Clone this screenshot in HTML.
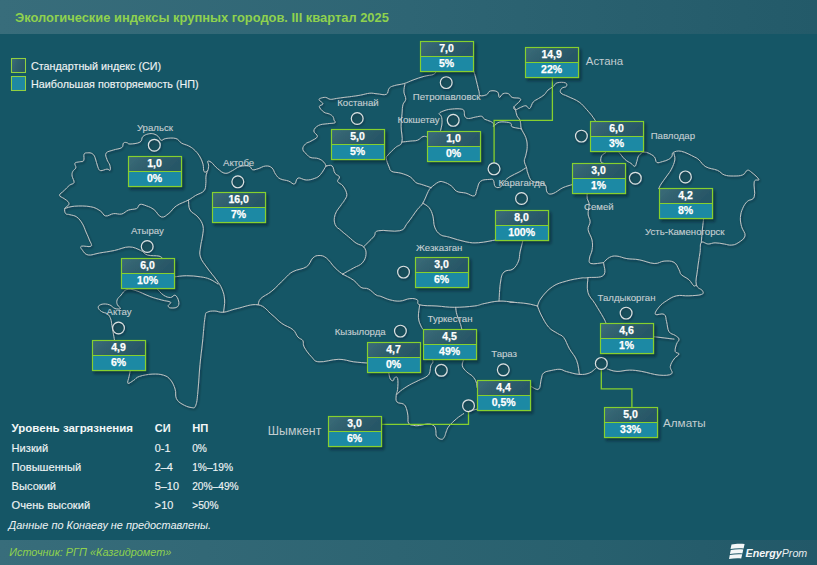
<!DOCTYPE html>
<html><head><meta charset="utf-8"><style>
html,body{margin:0;padding:0;}
body{width:817px;height:565px;position:relative;overflow:hidden;background:#155666;font-family:"Liberation Sans",sans-serif;}
.hdr{position:absolute;left:0;top:0;width:817px;height:34px;background:linear-gradient(90deg,#386d7b 0%,#2e6574 50%,#235a69 100%);}
.ftr{position:absolute;left:0;top:540px;width:817px;height:25px;background:linear-gradient(90deg,#386d7b 0%,#326876 25%,#28606e 72%,#225868 100%);}
svg{position:absolute;left:0;top:0;}
</style></head><body>
<div class="hdr"></div><div class="ftr"></div>

<svg width="817" height="565" style="position:absolute;left:0;top:0">
<defs><filter id="msh" x="-5%" y="-5%" width="110%" height="110%"><feDropShadow dx="1" dy="1.3" stdDeviation="0.9" flood-color="#00141c" flood-opacity="0.6"/></filter></defs>
<g fill="none" stroke="#bec3c3" stroke-width="1.0" stroke-linejoin="round" stroke-linecap="round" filter="url(#msh)">
<path d="M162.4,258.4 C161.7,257.9 162.0,256.8 159.0,256.1 C156.0,255.4 151.2,256.1 147.5,255.0 C143.8,253.9 144.3,252.0 140.6,250.4 C136.9,248.8 134.4,246.9 129.1,246.9 C123.8,246.9 120.2,249.3 114.3,250.5 C108.4,251.7 104.7,252.1 99.5,253.0 C94.3,253.9 91.7,255.5 88.3,255.0 C84.9,254.5 83.9,252.1 82.5,250.3 C81.1,248.5 79.7,247.0 81.4,246.2 C83.1,245.4 89.4,247.4 91.0,246.2 C92.6,245.0 90.4,242.8 89.4,240.0 C88.4,237.2 87.4,235.2 86.0,232.0 C84.6,228.8 84.3,226.9 82.5,223.9 C80.7,220.9 79.3,218.8 76.8,217.0 C74.3,215.2 72.1,215.4 69.9,214.7 C67.7,214.0 66.7,214.8 65.7,213.6 C64.7,212.4 64.2,210.3 64.8,208.5 C65.4,206.7 68.1,206.2 68.7,204.8 C69.3,203.4 68.9,202.8 68.0,201.6 C67.1,200.4 65.8,199.9 64.1,198.6 C62.4,197.3 59.5,196.8 59.5,195.2 C59.5,193.6 61.9,192.8 63.9,190.8 C65.9,188.8 67.4,187.0 69.4,185.3 C71.4,183.6 73.5,184.3 74.0,182.5 C74.5,180.7 72.4,178.3 72.1,176.1 C71.8,173.9 72.0,173.2 72.7,171.5 C73.4,169.8 75.4,169.5 75.8,167.8 C76.2,166.1 74.2,164.4 74.9,163.2 C75.6,162.0 77.7,162.3 79.5,161.8 C81.3,161.3 82.8,162.0 83.7,160.5 C84.6,159.0 83.3,155.6 84.1,154.1 C84.9,152.6 86.1,152.9 87.7,152.8 C89.3,152.7 90.8,152.7 92.3,153.7 C93.8,154.7 94.0,155.1 95.1,157.7 C96.2,160.3 96.7,164.3 97.8,166.9 C98.9,169.5 98.8,170.2 100.6,170.6 C102.4,171.0 105.1,169.2 107.0,169.1 C108.9,169.0 109.5,171.0 110.1,170.2 C110.7,169.4 110.4,167.2 109.8,165.1 C109.2,163.0 107.7,162.0 107.0,159.6 C106.3,157.2 104.8,155.0 106.1,153.1 C107.4,151.2 110.3,151.1 113.4,150.0 C116.5,148.9 119.7,149.0 121.7,147.6 C123.7,146.2 122.4,144.0 123.5,143.0 C124.6,142.0 125.9,142.5 127.2,142.7 C128.5,142.9 127.4,144.1 130.0,144.0 C132.6,143.9 137.4,143.6 140.0,142.1 C142.6,140.6 141.1,138.2 142.8,136.6 C144.5,135.0 146.1,134.4 148.3,133.9 C150.5,133.4 151.8,133.4 153.8,133.9 C155.8,134.4 156.9,135.3 158.4,136.6 C159.9,137.9 159.7,139.9 161.2,140.3 C162.7,140.7 162.9,138.9 165.8,138.5 C168.7,138.1 172.8,137.6 175.9,138.5 C179.0,139.4 178.9,141.5 181.4,143.0 C183.9,144.5 185.9,144.5 188.4,145.8 C190.9,147.1 191.7,147.5 193.9,149.5 C196.1,151.5 197.6,153.0 199.4,155.9 C201.2,158.8 202.1,161.1 203.0,164.2 C203.9,167.3 203.1,170.2 204.0,171.5 C204.9,172.8 206.7,171.9 207.6,170.6 C208.5,169.3 208.6,166.9 208.6,165.1 C208.6,163.3 207.1,162.0 207.6,161.4 C208.1,160.8 209.3,160.8 211.3,162.3 C213.3,163.8 214.9,166.5 217.7,168.7 C220.5,170.9 222.2,172.9 225.1,173.3 C228.0,173.7 229.5,172.0 232.4,170.6 C235.3,169.2 236.5,167.4 239.8,166.5 C243.1,165.6 246.3,165.4 248.9,166.0 C251.5,166.6 250.8,169.2 252.6,169.7 C254.4,170.2 255.5,169.4 258.1,168.7 C260.7,168.0 262.7,166.2 265.5,166.0 C268.3,165.8 269.9,166.1 271.9,167.8 C273.9,169.5 273.9,172.1 275.6,174.3 C277.3,176.5 277.6,177.5 280.2,178.8 C282.8,180.1 285.6,180.0 288.5,181.0 C291.4,182.0 292.6,184.6 294.5,184.0 C296.4,183.4 295.7,178.8 298.0,178.0 C300.3,177.2 302.8,179.9 306.2,180.0 C309.6,180.1 311.9,179.4 314.8,178.3 C317.7,177.2 318.3,177.0 320.5,174.5 C322.7,172.0 324.9,167.7 326.0,166.0"/>
<path d="M326.0,166.0 C325.6,165.2 325.4,163.7 323.9,162.2 C322.4,160.7 321.0,159.5 318.4,158.6 C315.8,157.7 313.2,158.3 311.0,157.6 C308.8,156.9 308.9,156.5 307.3,154.9 C305.7,153.3 303.2,151.6 302.8,149.4 C302.4,147.2 303.9,145.6 305.5,143.9 C307.1,142.2 308.6,142.6 311.0,141.1 C313.4,139.6 316.8,138.5 317.4,136.5 C318.0,134.5 313.6,133.2 313.8,131.0 C314.0,128.8 315.7,127.0 318.4,125.5 C321.1,124.0 324.2,124.2 327.5,123.7 C330.8,123.2 333.6,123.5 334.9,122.8 C336.2,122.1 334.4,121.2 334.0,120.0 C333.6,118.8 333.9,117.9 333.0,116.7 C332.1,115.5 331.2,114.9 329.4,114.0 C327.6,113.1 325.9,113.6 323.9,112.1 C321.9,110.6 319.5,108.2 319.3,106.6 C319.1,105.0 323.0,105.2 323.0,103.9 C323.0,102.6 319.9,101.3 319.3,100.2 C318.7,99.1 318.9,99.0 320.2,98.4 C321.5,97.8 323.7,97.2 325.7,97.4 C327.7,97.6 328.1,99.1 330.3,99.3 C332.5,99.5 333.9,98.8 336.7,98.4 C339.5,98.0 341.2,97.8 344.1,97.4 C347.0,97.0 348.1,97.0 351.4,96.5 C354.7,96.0 356.9,95.8 360.6,95.1 C364.3,94.4 366.5,93.5 369.8,93.2 C373.1,92.9 373.8,93.6 377.1,93.8 C380.4,94.0 383.9,95.4 386.3,94.3 C388.7,93.2 387.5,90.0 389.2,88.2 C390.9,86.4 391.8,86.4 394.7,85.5 C397.6,84.6 400.2,84.7 403.9,83.6 C407.6,82.5 409.0,81.5 413.0,80.0 C417.0,78.5 420.1,77.4 424.1,76.3 C428.1,75.2 430.8,75.4 433.2,74.5 C435.6,73.6 435.4,72.3 436.0,71.7"/>
<path d="M473.6,70.8 C474.0,72.1 474.8,74.4 475.5,77.2 C476.2,80.0 476.6,81.7 477.3,84.6 C478.0,87.5 478.5,89.7 479.1,91.9 C479.7,94.1 478.6,95.0 480.1,95.6 C481.6,96.2 484.5,95.6 486.5,94.7 C488.5,93.8 488.0,91.6 490.2,91.0 C492.4,90.4 495.7,90.6 497.5,91.9 C499.3,93.2 498.2,97.0 499.3,97.4 C500.4,97.8 501.2,94.4 503.0,93.7 C504.8,93.0 506.7,93.0 508.5,93.7 C510.3,94.4 510.0,96.5 512.2,97.4 C514.4,98.3 518.0,97.6 519.5,98.3 C521.0,99.0 521.0,99.3 519.9,101.0 C518.8,102.7 514.9,105.1 514.0,106.8 C513.1,108.5 514.2,109.6 515.5,109.7 C516.8,109.8 518.3,108.3 520.4,107.5 C522.5,106.7 524.1,105.5 525.9,105.7 C527.7,105.9 528.1,109.2 529.6,108.5 C531.1,107.8 531.4,104.0 533.2,102.0 C535.0,100.0 536.5,99.9 538.7,98.4 C540.9,96.9 542.5,96.4 544.3,94.7 C546.1,93.0 546.1,91.8 547.9,90.1 C549.7,88.4 551.6,87.9 553.4,86.4 C555.2,84.9 554.7,83.5 557.1,82.8 C559.5,82.1 563.6,82.1 565.4,82.8 C567.2,83.5 567.0,85.3 566.3,86.4 C565.6,87.5 562.8,87.0 561.7,88.3 C560.6,89.6 559.5,91.3 560.8,92.9 C562.1,94.5 564.4,94.7 568.1,96.5 C571.8,98.3 575.4,99.4 579.1,102.0 C582.8,104.6 583.9,106.6 586.5,109.4 C589.1,112.2 590.2,113.4 592.0,115.8 C593.8,118.2 595.0,120.2 595.7,121.3"/>
<path d="M643.3,152.1 C644.3,152.3 645.9,151.9 648.1,152.9 C650.3,153.9 652.7,155.0 654.4,156.9 C656.1,158.8 655.2,161.5 656.8,162.4 C658.4,163.3 660.0,162.2 662.4,161.6 C664.8,161.0 666.9,160.4 668.8,159.3 C670.7,158.2 671.1,157.5 672.0,156.1 C672.9,154.7 671.3,153.5 673.2,152.5 C675.1,151.5 677.3,150.4 681.5,151.3 C685.7,152.2 690.8,155.2 694.3,156.9 C697.8,158.6 696.7,157.9 699.0,159.9 C701.3,161.9 702.2,164.7 705.9,166.8 C709.6,168.9 713.7,168.7 717.4,170.3 C721.1,171.9 721.1,173.8 724.3,174.9 C727.5,176.0 729.8,176.0 733.5,176.0 C737.2,176.0 739.9,176.0 742.7,174.9 C745.5,173.8 745.5,170.8 747.3,170.3 C749.1,169.8 749.6,170.8 751.9,172.6 C754.2,174.4 758.3,177.7 758.8,179.5 C759.3,181.3 755.1,178.3 754.2,181.8 C753.3,185.3 755.6,192.9 754.2,196.8 C752.8,200.7 749.6,199.1 747.3,201.4 C745.0,203.7 744.1,205.1 742.7,208.3 C741.3,211.5 740.6,213.8 740.4,217.5 C740.2,221.2 740.7,223.0 741.6,226.7 C742.5,230.4 745.7,232.7 745.0,235.9 C744.3,239.1 740.9,241.0 738.1,242.8 C735.3,244.6 734.0,244.9 731.2,245.1 C728.4,245.3 727.5,244.5 724.3,244.0 C721.1,243.5 718.3,242.8 715.1,242.8 C711.9,242.8 711.0,244.1 708.2,244.0 C705.4,243.9 702.9,240.8 701.3,242.5 C699.7,244.2 700.8,247.0 700.0,252.4 C699.2,257.8 698.2,263.3 697.5,269.7 C696.8,276.1 695.3,280.4 696.3,284.6 C697.3,288.8 701.5,288.8 702.5,290.8 C703.5,292.8 704.0,293.5 701.3,294.5 C698.6,295.5 693.9,295.5 688.9,295.8 C683.9,296.1 681.0,294.8 676.5,295.8 C672.0,296.8 670.1,298.5 666.6,300.7 C663.1,302.9 661.3,304.2 659.1,306.9 C656.9,309.6 654.4,312.8 655.4,314.3 C656.4,315.8 661.9,312.8 664.1,314.3 C666.3,315.8 665.6,318.3 666.6,321.8 C667.6,325.3 667.3,329.0 669.0,331.7 C670.7,334.4 673.2,333.9 675.2,335.4 C677.2,336.9 678.7,337.4 679.0,339.1 C679.3,340.8 677.3,341.6 676.5,344.1 C675.7,346.6 674.7,349.5 675.2,351.5 C675.7,353.5 679.2,352.5 679.0,354.0 C678.8,355.5 675.7,356.5 674.0,359.0 C672.3,361.5 670.8,363.4 670.3,366.4 C669.8,369.4 673.7,372.1 671.5,373.8 C669.3,375.5 665.0,375.6 659.1,375.1 C653.2,374.6 647.7,372.4 641.8,371.4 C635.9,370.4 634.4,370.1 629.4,370.1 C624.4,370.1 621.5,371.6 617.0,371.4 C612.5,371.2 609.1,369.4 607.1,368.9"/>
<path d="M595.5,368.5 C594.3,369.4 592.5,371.8 589.3,373.0 C586.1,374.2 583.9,374.7 579.4,374.4 C574.9,374.1 570.5,372.6 566.6,371.6 C562.7,370.6 563.1,369.5 560.0,369.3 C556.9,369.1 554.4,369.8 551.1,370.5 C547.8,371.2 545.6,371.3 543.6,373.0 C541.6,374.7 542.2,376.0 541.2,379.2 C540.2,382.4 540.7,387.6 538.7,389.1 C536.7,390.6 532.8,387.1 531.3,386.6"/>
<path d="M476.9,409.2 C476.1,409.4 474.5,409.7 473.0,410.0 C471.5,410.3 470.3,410.6 469.6,410.7"/>
<path d="M463.7,413.6 C462.2,414.6 459.3,416.3 456.4,418.8 C453.5,421.3 451.1,423.5 449.0,426.1 C446.9,428.7 447.0,429.9 446.1,432.0 C445.2,434.1 445.5,434.9 444.6,436.4 C443.7,437.9 443.3,439.3 441.7,439.3 C440.1,439.3 437.8,438.2 436.6,436.4 C435.4,434.6 436.3,432.6 435.8,430.5 C435.3,428.4 435.8,427.4 434.3,426.1 C432.8,424.8 431.4,424.0 428.5,423.9 C425.6,423.8 422.6,425.1 419.7,425.4 C416.8,425.7 416.0,425.8 413.8,425.4 C411.6,425.0 409.8,425.1 408.6,423.2 C407.4,421.3 408.3,418.7 407.9,415.8 C407.5,412.9 407.3,410.8 406.4,408.5 C405.5,406.2 405.4,405.4 403.5,404.1 C401.6,402.8 398.4,403.7 396.9,401.9 C395.4,400.1 396.1,397.8 396.2,395.3 C396.3,392.8 397.3,392.8 397.6,389.4 C397.9,386.0 398.2,380.8 397.6,378.4 C397.0,376.0 395.6,377.2 394.7,377.6 C393.8,378.0 394.1,380.3 393.2,380.6 C392.3,380.9 391.2,380.6 390.3,379.1 C389.4,377.6 389.1,374.4 388.8,373.2"/>
<path d="M367.3,363.0 C364.6,362.8 359.4,362.5 353.7,361.8 C348.0,361.1 345.7,359.3 338.8,359.3 C331.9,359.3 324.5,362.3 319.0,361.8 C313.5,361.3 314.5,359.8 311.5,356.8 C308.5,353.8 305.8,350.1 304.1,346.9 C302.4,343.7 304.1,342.7 302.9,340.7 C301.7,338.7 299.9,339.2 297.9,337.0 C295.9,334.8 296.1,332.3 292.9,329.6 C289.7,326.9 286.0,326.4 281.8,323.4 C277.6,320.4 276.6,318.4 271.9,314.7 C267.2,311.0 265.1,306.0 258.2,304.8 C251.3,303.6 244.1,307.0 237.2,308.5 C230.3,310.0 228.0,311.7 223.5,312.2 C219.0,312.7 218.1,311.0 214.9,311.0 C211.7,311.0 209.4,311.0 207.4,312.2 C205.4,313.4 206.0,311.2 205.0,317.2 C204.0,323.2 203.5,332.6 202.5,342.0 C201.5,351.4 200.9,354.9 200.0,364.3 C199.1,373.7 198.9,380.9 198.1,389.1 C197.3,397.3 197.2,401.5 195.8,405.2 C194.4,408.9 194.0,407.7 191.2,407.5 C188.4,407.3 185.0,405.8 182.0,404.0 C179.0,402.2 177.7,401.3 176.3,398.3 C174.9,395.3 176.3,392.8 175.1,389.1 C173.9,385.4 172.8,382.7 170.5,379.9 C168.2,377.1 167.3,376.4 163.6,375.2 C159.9,374.0 156.9,373.9 152.1,374.1 C147.3,374.3 143.1,375.2 139.4,376.4 C135.7,377.6 136.0,378.9 133.7,380.3 C131.4,381.7 128.8,384.1 127.9,383.3 C127.0,382.5 128.6,378.9 129.1,376.4 C129.6,373.9 130.0,371.8 130.2,370.6"/>
<path d="M114.4,339.6 C114.2,338.3 113.7,335.7 113.2,332.9 C112.7,330.1 112.4,328.4 111.9,325.6 C111.4,322.8 111.6,321.2 110.7,318.9 C109.8,316.6 109.4,315.5 107.6,314.0 C105.8,312.5 103.4,312.9 101.5,311.5 C99.6,310.1 98.1,308.7 98.2,307.2 C98.3,305.7 99.8,304.7 102.1,304.2 C104.4,303.7 106.9,303.9 109.5,304.8 C112.1,305.7 112.8,307.8 115.0,308.5 C117.2,309.2 120.0,309.2 120.5,308.5 C121.0,307.8 118.1,306.5 117.4,304.8 C116.7,303.1 116.4,301.9 117.1,299.9 C117.8,297.9 119.2,297.1 121.1,295.0 C123.0,292.9 123.8,290.4 126.8,289.5 C129.8,288.6 131.4,289.2 136.0,290.6 C140.6,292.0 144.7,294.5 149.8,296.4 C154.9,298.3 157.2,298.7 161.3,299.9 C165.4,301.1 169.1,301.1 170.5,302.2 C171.9,303.3 168.2,304.5 168.2,305.6 C168.2,306.7 168.7,307.7 170.5,307.9 C172.3,308.1 175.8,308.2 177.4,306.8 C179.0,305.4 179.1,303.3 178.6,301.0 C178.1,298.7 176.7,295.9 175.1,295.2 C173.5,294.5 172.8,297.5 170.5,297.5 C168.2,297.5 166.4,297.0 163.6,295.2 C160.8,293.4 158.1,289.7 156.7,288.3"/>
<path d="M64.8,208.5 C66.7,208.0 69.3,206.6 74.5,206.2 C79.7,205.8 85.5,205.8 90.6,206.7 C95.7,207.6 97.2,209.0 100.2,210.8 C103.2,212.6 102.8,215.3 105.5,215.9 C108.2,216.5 110.4,214.0 113.6,213.6 C116.8,213.2 118.6,214.7 121.6,214.0 C124.6,213.3 125.5,211.2 128.5,210.1 C131.5,209.0 134.3,209.6 136.6,208.5 C138.9,207.4 138.0,204.9 140.0,204.4 C142.0,203.9 143.8,204.9 146.6,205.9 C149.4,206.9 151.0,207.4 154.0,209.6 C157.0,211.8 158.4,216.3 161.4,217.0 C164.4,217.7 165.9,215.5 168.9,213.3 C171.9,211.1 172.4,208.6 176.3,205.9 C180.2,203.2 184.6,202.1 188.5,200.0 C192.4,197.9 192.6,197.2 195.7,195.4 C198.8,193.6 202.0,193.2 204.0,190.8 C206.0,188.4 205.4,186.4 205.8,183.4 C206.2,180.4 205.6,178.6 206.0,176.0 C206.4,173.4 207.3,171.7 207.6,170.6"/>
<path d="M188.5,200.0 C188.8,202.0 188.1,206.6 190.0,210.0 C191.9,213.4 195.4,213.8 198.0,217.0 C200.6,220.2 202.1,222.2 203.0,226.0 C203.9,229.8 203.0,231.8 202.5,236.0 C202.0,240.2 200.9,242.8 200.5,247.0 C200.1,251.2 199.0,252.8 200.4,257.0 C201.8,261.2 204.1,263.4 207.3,268.0 C210.5,272.6 213.6,275.8 216.5,280.0 C219.4,284.2 220.4,285.0 222.0,289.0 C223.6,293.0 224.3,295.4 224.6,300.0 C224.9,304.6 223.7,309.8 223.5,312.2"/>
<path d="M174.8,276.8 C177.2,276.6 181.5,275.7 186.6,275.7 C191.7,275.7 195.8,276.1 200.4,276.8 C205.0,277.5 206.1,277.7 209.6,279.1 C213.1,280.5 216.3,283.0 218.0,284.0"/>
<path d="M258.2,304.8 C258.7,303.6 258.0,301.4 260.7,298.6 C263.4,295.8 267.2,294.9 271.9,291.0 C276.6,287.1 280.1,282.9 284.3,279.0 C288.5,275.1 288.4,274.1 292.9,271.6 C297.4,269.1 302.6,269.4 306.6,266.7 C310.6,264.0 310.3,260.2 312.8,258.0 C315.3,255.8 316.3,255.5 319.0,255.5 C321.7,255.5 323.2,255.5 326.4,258.0 C329.6,260.5 331.9,264.7 335.1,267.9 C338.3,271.1 341.0,272.9 342.5,274.1"/>
<path d="M326.0,166.0 C327.2,166.0 330.3,164.5 332.1,165.9 C333.9,167.3 333.4,171.0 334.9,173.2 C336.4,175.4 339.0,175.2 339.5,176.9 C340.0,178.6 336.9,179.7 337.6,181.5 C338.3,183.3 341.3,183.5 343.1,186.1 C344.9,188.7 346.6,191.5 346.8,194.4 C347.0,197.3 345.2,198.7 344.1,200.8 C343.0,202.9 343.1,201.9 341.3,204.7 C339.5,207.5 336.3,210.6 335.1,214.6 C333.9,218.6 333.9,221.3 335.1,224.5 C336.3,227.7 338.6,228.2 341.3,230.7 C344.0,233.2 345.7,234.4 348.7,236.9 C351.7,239.4 353.1,241.1 356.1,243.1 C359.1,245.1 361.6,244.6 363.6,246.8 C365.6,249.0 366.3,251.1 366.0,254.3 C365.7,257.5 364.8,260.2 362.3,262.9 C359.8,265.6 357.7,265.7 353.7,267.9 C349.7,270.1 344.7,272.9 342.5,274.1"/>
<path d="M342.5,274.1 C344.7,275.3 350.0,277.6 353.7,280.3 C357.4,283.0 358.1,285.7 361.1,287.4 C364.1,289.1 365.5,287.5 368.5,289.0 C371.5,290.5 373.5,293.4 376.0,294.9 C378.5,296.4 378.1,295.4 380.9,296.4 C383.7,297.4 386.1,298.9 389.9,299.8 C393.7,300.7 395.8,301.3 399.8,301.1 C403.8,300.9 406.3,298.9 409.8,298.6 C413.3,298.3 415.2,298.6 417.2,299.8 C419.2,301.0 415.7,303.6 419.7,304.8 C423.7,306.0 430.1,305.5 437.0,306.0 C443.9,306.5 447.0,307.3 454.4,307.3 C461.8,307.3 468.3,306.7 474.2,306.0 C480.1,305.3 479.1,304.6 484.1,303.6 C489.1,302.6 493.0,301.4 499.0,301.1 C505.0,300.8 508.3,301.8 513.9,302.3 C519.5,302.8 522.3,302.9 527.0,303.6 C531.7,304.3 535.4,305.5 537.5,306.0"/>
<path d="M404.8,84.6 C404.6,86.1 403.7,89.0 403.9,91.9 C404.1,94.8 405.9,96.7 405.7,99.3 C405.5,101.9 403.6,101.9 402.9,104.8 C402.2,107.7 402.4,109.5 402.0,113.9 C401.6,118.3 401.1,121.2 401.1,126.8 C401.1,132.4 403.0,137.9 401.9,142.0 C400.8,146.1 398.3,144.9 395.5,147.5 C392.7,150.1 389.9,152.7 388.1,154.9 C386.3,157.1 386.1,156.2 386.3,158.6 C386.5,161.0 387.9,164.2 389.0,166.8 C390.1,169.4 389.4,170.1 391.8,171.4 C394.2,172.7 397.3,172.1 401.0,173.2 C404.7,174.3 407.3,175.1 410.2,176.9 C413.1,178.7 413.5,180.9 415.7,182.4 C417.9,183.9 418.1,183.3 421.2,184.3 C424.3,185.3 429.0,186.9 431.0,187.6"/>
<path d="M363.6,246.8 C365.6,244.8 370.5,240.1 373.5,236.9 C376.5,233.7 373.1,231.9 378.4,230.7 C383.7,229.5 394.0,232.2 399.8,230.7 C405.6,229.2 403.8,227.5 407.3,223.3 C410.8,219.1 414.1,213.7 417.2,209.7 C420.3,205.7 420.6,206.9 422.8,203.2 C425.0,199.5 426.7,194.4 428.3,191.3 C429.9,188.2 430.5,188.3 431.0,187.6"/>
<path d="M401.9,142.0 C403.6,141.8 407.1,141.5 410.2,141.1 C413.3,140.7 414.9,141.1 417.5,140.2 C420.1,139.3 421.0,137.1 423.0,136.5 C425.0,135.9 426.5,136.9 427.4,137.0"/>
<path d="M440.6,130.3 C440.9,128.8 441.9,125.7 442.0,122.9 C442.1,120.1 441.9,118.2 441.3,116.3 C440.7,114.4 438.4,114.6 439.1,113.4 C439.8,112.2 442.4,111.3 445.0,110.4 C447.6,109.5 449.1,109.3 452.3,109.0 C455.5,108.7 458.7,108.6 461.1,109.0 C463.5,109.4 463.4,109.7 464.1,111.2 C464.8,112.7 463.9,114.8 464.8,116.3 C465.7,117.8 466.3,118.4 468.5,118.5 C470.7,118.6 473.2,117.4 475.8,117.0 C478.4,116.6 479.9,115.9 481.7,116.3 C483.5,116.7 482.8,118.2 484.6,119.2 C486.4,120.2 488.7,120.5 490.5,121.4 C492.3,122.3 492.8,122.6 493.4,123.6 C494.0,124.6 493.1,126.3 493.4,126.6 C493.7,126.9 493.7,126.0 494.9,125.1 C496.1,124.2 496.9,122.8 499.3,122.2 C501.7,121.6 504.3,121.9 506.7,122.2 C509.1,122.5 510.1,122.7 511.1,123.6 C512.1,124.5 510.6,125.7 511.8,126.6 C513.0,127.5 515.0,127.6 516.9,128.0 C518.8,128.4 520.5,128.6 521.4,128.8"/>
<path d="M514.0,106.8 C514.3,107.4 514.9,107.9 515.5,109.7 C516.1,111.5 516.0,113.5 516.9,115.6 C517.8,117.7 519.2,118.4 519.9,120.0 C520.6,121.6 520.3,121.8 520.6,123.6 C520.9,125.4 520.4,126.0 521.4,128.8 C522.4,131.6 524.6,134.1 525.8,137.6 C527.0,141.1 527.2,142.9 527.2,146.4 C527.2,149.9 526.4,152.3 525.8,155.2 C525.2,158.1 524.2,158.7 524.3,161.1 C524.4,163.5 526.1,166.1 526.5,167.4"/>
<path d="M431.0,187.6 C432.5,186.5 435.8,183.2 438.4,182.1 C441.0,181.0 441.3,181.4 443.9,182.1 C446.5,182.8 448.6,184.0 451.2,185.8 C453.8,187.6 453.8,189.8 456.7,191.3 C459.6,192.8 462.4,192.2 465.9,193.1 C469.4,194.0 472.0,196.6 474.2,195.9 C476.4,195.2 475.6,192.4 476.9,189.5 C478.2,186.6 478.0,183.2 480.6,181.2 C483.2,179.2 487.2,179.6 489.8,179.4 C492.4,179.2 492.3,178.8 493.4,180.3 C494.5,181.8 493.8,185.4 495.3,186.7 C496.8,188.0 499.0,187.8 500.8,186.7 C502.6,185.6 502.7,183.2 504.5,181.2 C506.3,179.2 507.1,178.4 510.0,176.6 C512.9,174.8 515.8,173.8 519.1,172.0 C522.4,170.2 525.0,168.3 526.5,167.4"/>
<path d="M526.5,167.4 C526.8,168.5 526.8,170.4 527.8,173.1 C528.8,175.8 529.4,179.0 531.7,180.9 C534.0,182.8 536.8,182.0 539.5,182.8 C542.2,183.6 543.7,182.8 545.3,184.8 C546.9,186.8 545.7,190.9 547.3,192.6 C548.9,194.3 550.0,194.5 553.1,193.5 C556.2,192.5 559.1,189.4 562.8,187.7 C566.5,186.0 569.8,185.4 571.6,184.8"/>
<path d="M422.8,203.2 C424.1,204.1 427.2,205.2 429.2,207.8 C431.2,210.4 431.8,212.2 432.9,216.1 C434.0,220.0 433.2,223.4 434.7,227.1 C436.2,230.8 437.3,232.5 440.2,234.5 C443.1,236.5 444.3,235.7 449.4,237.2 C454.5,238.7 460.0,240.7 465.9,241.8 C471.8,242.9 472.8,243.1 478.7,242.7 C484.6,242.3 492.0,240.5 495.3,240.0"/>
<path d="M522.8,241.0 C522.2,243.2 520.9,248.0 520.0,252.0 C519.1,256.0 519.9,257.6 518.5,261.0 C517.1,264.4 515.9,266.8 513.0,269.0 C510.1,271.2 506.5,269.4 504.0,272.0 C501.5,274.6 501.5,276.2 500.5,282.0 C499.5,287.8 499.3,297.3 499.0,301.1"/>
<path d="M510.0,302.2 L513.9,302.3"/>
<path d="M537.5,306.0 C538.2,304.4 538.2,301.9 541.2,298.0 C544.2,294.1 547.4,290.0 552.5,286.6 C557.6,283.2 560.9,282.7 566.6,281.0 C572.3,279.3 576.5,278.8 580.8,278.1 C585.1,277.4 583.4,278.2 587.9,277.6 C592.4,277.0 600.4,278.3 603.5,275.3 C606.6,272.3 603.5,265.1 603.5,262.6"/>
<path d="M537.5,306.0 C538.2,307.8 539.0,310.8 541.2,315.0 C543.4,319.2 545.4,323.4 548.6,327.1 C551.8,330.8 554.3,331.2 557.3,333.3 C560.3,335.4 561.4,334.5 563.8,337.6 C566.2,340.7 566.9,344.4 569.5,348.9 C572.1,353.4 574.6,355.2 576.6,360.3 C578.6,365.4 578.8,371.6 579.4,374.4"/>
<path d="M587.9,277.6 C587.9,280.5 586.5,287.1 587.9,292.3 C589.3,297.5 591.9,298.5 595.0,303.6 C598.1,308.7 601.3,313.9 603.5,317.8 C605.7,321.7 605.5,322.2 606.0,323.3"/>
<path d="M603.5,262.6 C604.7,261.5 606.9,258.6 609.6,257.3 C612.3,256.0 613.5,255.8 617.0,256.1 C620.5,256.4 622.4,257.9 626.9,258.6 C631.4,259.3 633.8,258.8 639.3,259.8 C644.8,260.8 649.2,263.2 654.2,263.5 C659.2,263.8 660.1,261.3 664.1,261.1 C668.1,260.9 671.0,260.6 674.0,262.3 C677.0,264.0 677.5,267.2 679.0,269.7 C680.5,272.2 679.4,272.7 681.4,274.7 C683.4,276.7 686.4,277.5 688.9,279.7 C691.4,281.9 692.3,284.8 693.8,285.8 C695.3,286.8 695.8,284.8 696.3,284.6"/>
<path d="M587.2,193.5 C587.2,194.5 586.8,196.2 587.2,198.4 C587.6,200.6 588.9,201.2 589.1,204.3 C589.3,207.4 587.9,210.5 588.1,214.0 C588.3,217.5 590.1,218.7 590.1,221.8 C590.1,224.9 587.7,226.0 588.1,229.6 C588.5,233.2 591.2,236.0 592.0,240.0 C592.8,244.0 592.6,246.2 592.1,249.8 C591.6,253.4 589.7,255.3 589.5,258.0 C589.3,260.7 588.2,262.6 591.0,263.5 C593.8,264.4 601.0,262.8 603.5,262.6"/>
<path d="M653.5,336.7 C655.6,336.9 660.0,337.4 664.1,337.9 C668.2,338.4 672.0,338.9 674.0,339.1"/>
<path d="M673.7,153.0 C673.9,154.4 675.3,156.7 674.8,159.9 C674.3,163.1 673.0,165.9 671.4,169.1 C669.8,172.3 668.9,173.0 666.8,176.0 C664.7,179.0 662.6,181.6 661.0,184.1 C659.4,186.6 659.2,187.8 658.7,188.7"/>
<path d="M703.6,218.6 C703.4,220.7 702.9,224.2 702.4,229.0 C701.9,233.8 701.5,239.8 701.3,242.5"/>
<path d="M605.7,152.7 C604.9,153.3 602.8,153.9 601.8,155.6 C600.8,157.3 600.4,159.8 600.8,161.4 C601.2,163.0 603.1,163.0 603.7,163.4"/>
<path d="M619.3,152.7 C620.5,154.1 622.8,157.4 625.1,159.5 C627.4,161.6 629.0,162.0 631.0,163.4 C633.0,164.8 633.7,166.7 634.9,166.3 C636.1,165.9 636.0,163.5 636.8,161.4 C637.6,159.3 637.4,157.5 638.8,155.6 C640.2,153.7 642.6,152.5 643.6,151.7"/>
<path d="M419.7,304.8 C419.4,307.3 418.2,313.0 418.4,317.2 C418.6,321.4 419.9,323.4 420.9,325.9 C421.9,328.4 422.9,328.9 423.4,329.6"/>
<path d="M432.1,359.5 C432.3,360.0 433.2,360.9 432.9,362.2 C432.6,363.5 431.3,364.0 430.7,365.9 C430.1,367.8 430.6,369.7 429.9,371.8 C429.2,373.9 429.3,374.4 427.0,376.2 C424.7,378.0 421.7,378.8 418.2,380.6 C414.7,382.4 412.9,383.0 409.4,385.0 C405.9,387.0 403.1,388.9 400.6,390.8 C398.1,392.7 397.6,393.8 396.9,394.5"/>
<path d="M455.6,307.3 C455.9,308.8 455.9,311.2 456.9,314.7 C457.9,318.2 459.6,321.6 460.6,324.6 C461.6,327.6 461.6,328.6 461.8,329.6"/>
<path d="M463.7,359.5 C463.4,360.8 461.7,363.4 462.3,365.9 C462.9,368.4 464.7,369.7 466.7,371.8 C468.7,373.9 470.6,374.2 472.5,376.2 C474.4,378.2 475.3,379.8 476.2,382.0 C477.1,384.2 476.8,386.2 476.9,387.2"/>
</g></svg>
<svg width="817" height="565" font-family="Liberation Sans, sans-serif">
<defs>
<filter id="sh" x="-30%" y="-30%" width="160%" height="160%"><feDropShadow dx="0.8" dy="1.2" stdDeviation="0.8" flood-color="#001820" flood-opacity="0.6"/></filter>
<filter id="bsh" x="-20%" y="-20%" width="150%" height="160%"><feDropShadow dx="2" dy="2.6" stdDeviation="1.7" flood-color="#00141c" flood-opacity="0.55"/></filter>
<linearGradient id="tg" x1="0" y1="0" x2="1" y2="0.35"><stop offset="0" stop-color="#3c6c79"/><stop offset="0.5" stop-color="#2f5f6d"/><stop offset="1" stop-color="#275666"/></linearGradient>
</defs>
<text x="15" y="22.3" font-size="12.9" font-weight="bold" fill="#8fd24e">Экологические индексы крупных городов. III квартал 2025</text>
<rect x="11.5" y="58.5" width="14" height="14" fill="url(#tg)" stroke="#92d040" stroke-width="1.05"/>
<rect x="11.5" y="76.5" width="14" height="14" fill="#1f88a3" stroke="#92d040" stroke-width="1.05"/>
<text x="31" y="70" font-size="10.75" fill="#eef3f4" stroke="#eef3f4" stroke-width="0.15">Стандартный индекс (СИ)</text>
<text x="31" y="88" font-size="10.75" fill="#eef3f4" stroke="#eef3f4" stroke-width="0.15">Наибольшая повторяемость (НП)</text>
<g fill="none" stroke="#86d02e" stroke-width="1.3">
<polyline points="552.4,77.6 552.4,120.3 494.1,120.3 494.1,162.8"/>
<polyline points="468.5,411.7 468.5,424.4 381.4,424.4"/>
<polyline points="601.3,369.4 601.3,388.8 631.9,388.8 631.9,407.3"/>
</g>
<g fill="rgba(55,68,74,0.14)" stroke="#dde2e3" stroke-width="1.15" filter="url(#sh)">
<circle cx="154.3" cy="145.2" r="5.9"/>
<circle cx="237.8" cy="181.8" r="5.9"/>
<circle cx="147.2" cy="246.5" r="5.9"/>
<circle cx="118.5" cy="328" r="5.9"/>
<circle cx="357.2" cy="118.5" r="5.9"/>
<circle cx="446.2" cy="82.6" r="5.9"/>
<circle cx="453.2" cy="120.3" r="5.9"/>
<circle cx="494" cy="168.8" r="5.9"/>
<circle cx="581.4" cy="136.1" r="5.9"/>
<circle cx="635.3" cy="178.2" r="5.9"/>
<circle cx="685.4" cy="176.9" r="5.9"/>
<circle cx="521.5" cy="198.5" r="5.9"/>
<circle cx="403.5" cy="272.1" r="5.9"/>
<circle cx="400.4" cy="331.1" r="5.9"/>
<circle cx="441.3" cy="370.3" r="5.9"/>
<circle cx="468.5" cy="405.7" r="5.9"/>
<circle cx="503.3" cy="369.8" r="5.9"/>
<circle cx="626.1" cy="313.1" r="5.9"/>
<circle cx="601.3" cy="363.4" r="5.9"/>
</g>
<g filter="url(#bsh)"><rect x="128" y="156" width="54" height="15.5" fill="url(#tg)"/><rect x="128" y="171.5" width="54" height="15.5" fill="#1f89a4"/><rect x="128.5" y="156.5" width="53" height="30" fill="none" stroke="#86d02e" stroke-width="1.15"/><line x1="128.5" y1="171.5" x2="181.5" y2="171.5" stroke="#86d02e" stroke-width="1.15"/></g>
<text x="154.6" y="166.90" text-anchor="middle" font-size="10.5" font-weight="bold" fill="#fff" stroke="#fff" stroke-width="0.25">1,0</text>
<text x="154.6" y="181.85" text-anchor="middle" font-size="10.5" font-weight="bold" fill="#fff" stroke="#fff" stroke-width="0.25">0%</text>
<g filter="url(#bsh)"><rect x="212" y="192" width="54" height="15.5" fill="url(#tg)"/><rect x="212" y="207.5" width="54" height="15.5" fill="#1f89a4"/><rect x="212.5" y="192.5" width="53" height="30" fill="none" stroke="#86d02e" stroke-width="1.15"/><line x1="212.5" y1="207.5" x2="265.5" y2="207.5" stroke="#86d02e" stroke-width="1.15"/></g>
<text x="238.6" y="202.90" text-anchor="middle" font-size="10.5" font-weight="bold" fill="#fff" stroke="#fff" stroke-width="0.25">16,0</text>
<text x="238.6" y="217.85" text-anchor="middle" font-size="10.5" font-weight="bold" fill="#fff" stroke="#fff" stroke-width="0.25">7%</text>
<g filter="url(#bsh)"><rect x="121" y="258" width="54" height="15.5" fill="url(#tg)"/><rect x="121" y="273.5" width="54" height="15.5" fill="#1f89a4"/><rect x="121.5" y="258.5" width="53" height="30" fill="none" stroke="#86d02e" stroke-width="1.15"/><line x1="121.5" y1="273.5" x2="174.5" y2="273.5" stroke="#86d02e" stroke-width="1.15"/></g>
<text x="147.6" y="268.90" text-anchor="middle" font-size="10.5" font-weight="bold" fill="#fff" stroke="#fff" stroke-width="0.25">6,0</text>
<text x="147.6" y="283.85" text-anchor="middle" font-size="10.5" font-weight="bold" fill="#fff" stroke="#fff" stroke-width="0.25">10%</text>
<g filter="url(#bsh)"><rect x="92" y="340" width="54" height="15.5" fill="url(#tg)"/><rect x="92" y="355.5" width="54" height="15.5" fill="#1f89a4"/><rect x="92.5" y="340.5" width="53" height="30" fill="none" stroke="#86d02e" stroke-width="1.15"/><line x1="92.5" y1="355.5" x2="145.5" y2="355.5" stroke="#86d02e" stroke-width="1.15"/></g>
<text x="118.6" y="350.90" text-anchor="middle" font-size="10.5" font-weight="bold" fill="#fff" stroke="#fff" stroke-width="0.25">4,9</text>
<text x="118.6" y="365.85" text-anchor="middle" font-size="10.5" font-weight="bold" fill="#fff" stroke="#fff" stroke-width="0.25">6%</text>
<g filter="url(#bsh)"><rect x="331" y="129" width="54" height="15.5" fill="url(#tg)"/><rect x="331" y="144.5" width="54" height="15.5" fill="#1f89a4"/><rect x="331.5" y="129.5" width="53" height="30" fill="none" stroke="#86d02e" stroke-width="1.15"/><line x1="331.5" y1="144.5" x2="384.5" y2="144.5" stroke="#86d02e" stroke-width="1.15"/></g>
<text x="357.6" y="139.90" text-anchor="middle" font-size="10.5" font-weight="bold" fill="#fff" stroke="#fff" stroke-width="0.25">5,0</text>
<text x="357.6" y="154.85" text-anchor="middle" font-size="10.5" font-weight="bold" fill="#fff" stroke="#fff" stroke-width="0.25">5%</text>
<g filter="url(#bsh)"><rect x="420" y="41" width="54" height="15.5" fill="url(#tg)"/><rect x="420" y="56.5" width="54" height="15.5" fill="#1f89a4"/><rect x="420.5" y="41.5" width="53" height="30" fill="none" stroke="#86d02e" stroke-width="1.15"/><line x1="420.5" y1="56.5" x2="473.5" y2="56.5" stroke="#86d02e" stroke-width="1.15"/></g>
<text x="446.6" y="51.90" text-anchor="middle" font-size="10.5" font-weight="bold" fill="#fff" stroke="#fff" stroke-width="0.25">7,0</text>
<text x="446.6" y="66.85" text-anchor="middle" font-size="10.5" font-weight="bold" fill="#fff" stroke="#fff" stroke-width="0.25">5%</text>
<g filter="url(#bsh)"><rect x="427" y="131" width="54" height="15.5" fill="url(#tg)"/><rect x="427" y="146.5" width="54" height="15.5" fill="#1f89a4"/><rect x="427.5" y="131.5" width="53" height="30" fill="none" stroke="#86d02e" stroke-width="1.15"/><line x1="427.5" y1="146.5" x2="480.5" y2="146.5" stroke="#86d02e" stroke-width="1.15"/></g>
<text x="453.6" y="141.90" text-anchor="middle" font-size="10.5" font-weight="bold" fill="#fff" stroke="#fff" stroke-width="0.25">1,0</text>
<text x="453.6" y="156.85" text-anchor="middle" font-size="10.5" font-weight="bold" fill="#fff" stroke="#fff" stroke-width="0.25">0%</text>
<g filter="url(#bsh)"><rect x="525" y="47" width="54" height="15.5" fill="url(#tg)"/><rect x="525" y="62.5" width="54" height="15.5" fill="#1f89a4"/><rect x="525.5" y="47.5" width="53" height="30" fill="none" stroke="#86d02e" stroke-width="1.15"/><line x1="525.5" y1="62.5" x2="578.5" y2="62.5" stroke="#86d02e" stroke-width="1.15"/></g>
<text x="551.6" y="57.90" text-anchor="middle" font-size="10.5" font-weight="bold" fill="#fff" stroke="#fff" stroke-width="0.25">14,9</text>
<text x="551.6" y="72.85" text-anchor="middle" font-size="10.5" font-weight="bold" fill="#fff" stroke="#fff" stroke-width="0.25">22%</text>
<g filter="url(#bsh)"><rect x="590" y="121" width="54" height="15.5" fill="url(#tg)"/><rect x="590" y="136.5" width="54" height="15.5" fill="#1f89a4"/><rect x="590.5" y="121.5" width="53" height="30" fill="none" stroke="#86d02e" stroke-width="1.15"/><line x1="590.5" y1="136.5" x2="643.5" y2="136.5" stroke="#86d02e" stroke-width="1.15"/></g>
<text x="616.6" y="131.90" text-anchor="middle" font-size="10.5" font-weight="bold" fill="#fff" stroke="#fff" stroke-width="0.25">6,0</text>
<text x="616.6" y="146.85" text-anchor="middle" font-size="10.5" font-weight="bold" fill="#fff" stroke="#fff" stroke-width="0.25">3%</text>
<g filter="url(#bsh)"><rect x="572" y="163" width="54" height="15.5" fill="url(#tg)"/><rect x="572" y="178.5" width="54" height="15.5" fill="#1f89a4"/><rect x="572.5" y="163.5" width="53" height="30" fill="none" stroke="#86d02e" stroke-width="1.15"/><line x1="572.5" y1="178.5" x2="625.5" y2="178.5" stroke="#86d02e" stroke-width="1.15"/></g>
<text x="598.6" y="173.90" text-anchor="middle" font-size="10.5" font-weight="bold" fill="#fff" stroke="#fff" stroke-width="0.25">3,0</text>
<text x="598.6" y="188.85" text-anchor="middle" font-size="10.5" font-weight="bold" fill="#fff" stroke="#fff" stroke-width="0.25">1%</text>
<g filter="url(#bsh)"><rect x="659" y="188" width="54" height="15.5" fill="url(#tg)"/><rect x="659" y="203.5" width="54" height="15.5" fill="#1f89a4"/><rect x="659.5" y="188.5" width="53" height="30" fill="none" stroke="#86d02e" stroke-width="1.15"/><line x1="659.5" y1="203.5" x2="712.5" y2="203.5" stroke="#86d02e" stroke-width="1.15"/></g>
<text x="685.6" y="198.90" text-anchor="middle" font-size="10.5" font-weight="bold" fill="#fff" stroke="#fff" stroke-width="0.25">4,2</text>
<text x="685.6" y="213.85" text-anchor="middle" font-size="10.5" font-weight="bold" fill="#fff" stroke="#fff" stroke-width="0.25">8%</text>
<g filter="url(#bsh)"><rect x="495" y="210" width="54" height="15.5" fill="url(#tg)"/><rect x="495" y="225.5" width="54" height="15.5" fill="#1f89a4"/><rect x="495.5" y="210.5" width="53" height="30" fill="none" stroke="#86d02e" stroke-width="1.15"/><line x1="495.5" y1="225.5" x2="548.5" y2="225.5" stroke="#86d02e" stroke-width="1.15"/></g>
<text x="521.6" y="220.90" text-anchor="middle" font-size="10.5" font-weight="bold" fill="#fff" stroke="#fff" stroke-width="0.25">8,0</text>
<text x="521.6" y="235.85" text-anchor="middle" font-size="10.5" font-weight="bold" fill="#fff" stroke="#fff" stroke-width="0.25">100%</text>
<g filter="url(#bsh)"><rect x="415" y="257" width="54" height="15.5" fill="url(#tg)"/><rect x="415" y="272.5" width="54" height="15.5" fill="#1f89a4"/><rect x="415.5" y="257.5" width="53" height="30" fill="none" stroke="#86d02e" stroke-width="1.15"/><line x1="415.5" y1="272.5" x2="468.5" y2="272.5" stroke="#86d02e" stroke-width="1.15"/></g>
<text x="441.6" y="267.90" text-anchor="middle" font-size="10.5" font-weight="bold" fill="#fff" stroke="#fff" stroke-width="0.25">3,0</text>
<text x="441.6" y="282.85" text-anchor="middle" font-size="10.5" font-weight="bold" fill="#fff" stroke="#fff" stroke-width="0.25">6%</text>
<g filter="url(#bsh)"><rect x="367" y="342" width="54" height="15.5" fill="url(#tg)"/><rect x="367" y="357.5" width="54" height="15.5" fill="#1f89a4"/><rect x="367.5" y="342.5" width="53" height="30" fill="none" stroke="#86d02e" stroke-width="1.15"/><line x1="367.5" y1="357.5" x2="420.5" y2="357.5" stroke="#86d02e" stroke-width="1.15"/></g>
<text x="393.6" y="352.90" text-anchor="middle" font-size="10.5" font-weight="bold" fill="#fff" stroke="#fff" stroke-width="0.25">4,7</text>
<text x="393.6" y="367.85" text-anchor="middle" font-size="10.5" font-weight="bold" fill="#fff" stroke="#fff" stroke-width="0.25">0%</text>
<g filter="url(#bsh)"><rect x="423" y="329" width="54" height="15.5" fill="url(#tg)"/><rect x="423" y="344.5" width="54" height="15.5" fill="#1f89a4"/><rect x="423.5" y="329.5" width="53" height="30" fill="none" stroke="#86d02e" stroke-width="1.15"/><line x1="423.5" y1="344.5" x2="476.5" y2="344.5" stroke="#86d02e" stroke-width="1.15"/></g>
<text x="449.6" y="339.90" text-anchor="middle" font-size="10.5" font-weight="bold" fill="#fff" stroke="#fff" stroke-width="0.25">4,5</text>
<text x="449.6" y="354.85" text-anchor="middle" font-size="10.5" font-weight="bold" fill="#fff" stroke="#fff" stroke-width="0.25">49%</text>
<g filter="url(#bsh)"><rect x="328" y="416" width="54" height="15.5" fill="url(#tg)"/><rect x="328" y="431.5" width="54" height="15.5" fill="#1f89a4"/><rect x="328.5" y="416.5" width="53" height="30" fill="none" stroke="#86d02e" stroke-width="1.15"/><line x1="328.5" y1="431.5" x2="381.5" y2="431.5" stroke="#86d02e" stroke-width="1.15"/></g>
<text x="354.6" y="426.90" text-anchor="middle" font-size="10.5" font-weight="bold" fill="#fff" stroke="#fff" stroke-width="0.25">3,0</text>
<text x="354.6" y="441.85" text-anchor="middle" font-size="10.5" font-weight="bold" fill="#fff" stroke="#fff" stroke-width="0.25">6%</text>
<g filter="url(#bsh)"><rect x="477" y="380" width="54" height="15.5" fill="url(#tg)"/><rect x="477" y="395.5" width="54" height="15.5" fill="#1f89a4"/><rect x="477.5" y="380.5" width="53" height="30" fill="none" stroke="#86d02e" stroke-width="1.15"/><line x1="477.5" y1="395.5" x2="530.5" y2="395.5" stroke="#86d02e" stroke-width="1.15"/></g>
<text x="503.6" y="390.90" text-anchor="middle" font-size="10.5" font-weight="bold" fill="#fff" stroke="#fff" stroke-width="0.25">4,4</text>
<text x="503.6" y="405.85" text-anchor="middle" font-size="10.5" font-weight="bold" fill="#fff" stroke="#fff" stroke-width="0.25">0,5%</text>
<g filter="url(#bsh)"><rect x="600" y="323" width="54" height="15.5" fill="url(#tg)"/><rect x="600" y="338.5" width="54" height="15.5" fill="#1f89a4"/><rect x="600.5" y="323.5" width="53" height="30" fill="none" stroke="#86d02e" stroke-width="1.15"/><line x1="600.5" y1="338.5" x2="653.5" y2="338.5" stroke="#86d02e" stroke-width="1.15"/></g>
<text x="626.6" y="333.90" text-anchor="middle" font-size="10.5" font-weight="bold" fill="#fff" stroke="#fff" stroke-width="0.25">4,6</text>
<text x="626.6" y="348.85" text-anchor="middle" font-size="10.5" font-weight="bold" fill="#fff" stroke="#fff" stroke-width="0.25">1%</text>
<g filter="url(#bsh)"><rect x="604" y="407" width="54" height="15.5" fill="url(#tg)"/><rect x="604" y="422.5" width="54" height="15.5" fill="#1f89a4"/><rect x="604.5" y="407.5" width="53" height="30" fill="none" stroke="#86d02e" stroke-width="1.15"/><line x1="604.5" y1="422.5" x2="657.5" y2="422.5" stroke="#86d02e" stroke-width="1.15"/></g>
<text x="630.6" y="417.90" text-anchor="middle" font-size="10.5" font-weight="bold" fill="#fff" stroke="#fff" stroke-width="0.25">5,0</text>
<text x="630.6" y="432.85" text-anchor="middle" font-size="10.5" font-weight="bold" fill="#fff" stroke="#fff" stroke-width="0.25">33%</text>
<text x="136.9" y="131.0" font-size="9.65" fill="#c6cfd2" stroke="#c6cfd2" stroke-width="0.12">Уральск</text>
<text x="223" y="165.7" font-size="9.65" fill="#c6cfd2" stroke="#c6cfd2" stroke-width="0.12">Актобе</text>
<text x="130.9" y="233.6" font-size="9.65" fill="#c6cfd2" stroke="#c6cfd2" stroke-width="0.12">Атырау</text>
<text x="106.5" y="315.2" font-size="9.65" fill="#c6cfd2" stroke="#c6cfd2" stroke-width="0.12">Актау</text>
<text x="337.2" y="106.3" font-size="9.65" fill="#c6cfd2" stroke="#c6cfd2" stroke-width="0.12">Костанай</text>
<text x="412.8" y="100.10000000000001" font-size="9.65" fill="#c6cfd2" stroke="#c6cfd2" stroke-width="0.12">Петропавловск</text>
<text x="397.4" y="122.7" font-size="9.65" fill="#c6cfd2" stroke="#c6cfd2" stroke-width="0.12">Кокшетау</text>
<text x="585.8" y="64.7" font-size="11.4" fill="#c3cdd0">Астана</text>
<text x="650.7" y="139.2" font-size="9.65" fill="#c6cfd2" stroke="#c6cfd2" stroke-width="0.12">Павлодар</text>
<text x="584" y="210.29999999999998" font-size="9.65" fill="#c6cfd2" stroke="#c6cfd2" stroke-width="0.12">Семей</text>
<text x="645" y="234.6" font-size="9.65" fill="#c6cfd2" stroke="#c6cfd2" stroke-width="0.12">Усть-Каменогорск</text>
<text x="498.5" y="186.1" font-size="9.65" fill="#c6cfd2" stroke="#c6cfd2" stroke-width="0.12">Караганда</text>
<text x="416" y="250.5" font-size="9.65" fill="#c6cfd2" stroke="#c6cfd2" stroke-width="0.12">Жезказган</text>
<text x="334.7" y="334.8" font-size="9.65" fill="#c6cfd2" stroke="#c6cfd2" stroke-width="0.12">Кызылорда</text>
<text x="427.6" y="322.4" font-size="9.65" fill="#c6cfd2" stroke="#c6cfd2" stroke-width="0.12">Туркестан</text>
<text x="267.8" y="434.7" font-size="12.35" fill="#c3cdd0">Шымкент</text>
<text x="491.2" y="356.7" font-size="9.65" fill="#c6cfd2" stroke="#c6cfd2" stroke-width="0.12">Тараз</text>
<text x="597.5" y="301.09999999999997" font-size="9.65" fill="#c6cfd2" stroke="#c6cfd2" stroke-width="0.12">Талдыкорган</text>
<text x="663" y="427" font-size="11.7" fill="#c3cdd0">Алматы</text>
<g font-weight="bold" fill="#f2f6f7"><text x="11.6" y="432" font-size="11.5">Уровень загрязнения</text><text x="154.8" y="432" font-size="11">СИ</text><text x="192.2" y="432" font-size="11.2">НП</text></g>
<g fill="#eef3f4" stroke="#eef3f4" stroke-width="0.15"><text x="11.6" y="452.2" font-size="11.1">Низкий</text><text x="154.8" y="452.2" font-size="10.85">0-1</text><text x="192.2" y="452.2" font-size="10.2">0%</text></g>
<g fill="#eef3f4" stroke="#eef3f4" stroke-width="0.15"><text x="11.6" y="470.6" font-size="11.1">Повышенный</text><text x="154.8" y="470.6" font-size="10.85">2–4</text><text x="192.2" y="470.6" font-size="10.2">1%–19%</text></g>
<g fill="#eef3f4" stroke="#eef3f4" stroke-width="0.15"><text x="11.6" y="489.6" font-size="11.1">Высокий</text><text x="154.8" y="489.6" font-size="10.85">5–10</text><text x="192.2" y="489.6" font-size="10.2">20%–49%</text></g>
<g fill="#eef3f4" stroke="#eef3f4" stroke-width="0.15"><text x="11.6" y="508.5" font-size="11.1">Очень высокий</text><text x="154.8" y="508.5" font-size="10.85">>10</text><text x="192.2" y="508.5" font-size="10.2">>50%</text></g>
<text x="8.6" y="529.3" font-size="10.9" font-style="italic" fill="#eef3f4">Данные по Конаеву не предоставлены.</text>
<text x="9.2" y="556" font-size="10.9" font-style="italic" fill="#8fd24e">Источник: РГП «Казгидромет»</text>
<g fill="#f4f7f8">
<path d="M731.5,544.5 C735,543.6 740,543.4 744.6,543.9 L743.6,548.4 C739,547.9 734.5,548.2 730.5,549 Z"/>
<path d="M730.8,549.9 C735,549.2 739.5,549.2 743.3,549.4 L742.4,553.4 C738.5,553 734,553.3 729.9,554 Z"/>
<path d="M729.8,554.9 C733.5,554.3 738,554.1 742.2,554.3 L741.2,558.4 C737,558 733,558.3 729,559 Z"/>
</g>
<text x="745.5" y="557" font-size="10.7" font-style="italic" fill="#f4f7f8"><tspan font-weight="bold">Energy</tspan><tspan fill="#e6ecee">Prom</tspan></text>
</svg>
</body></html>
